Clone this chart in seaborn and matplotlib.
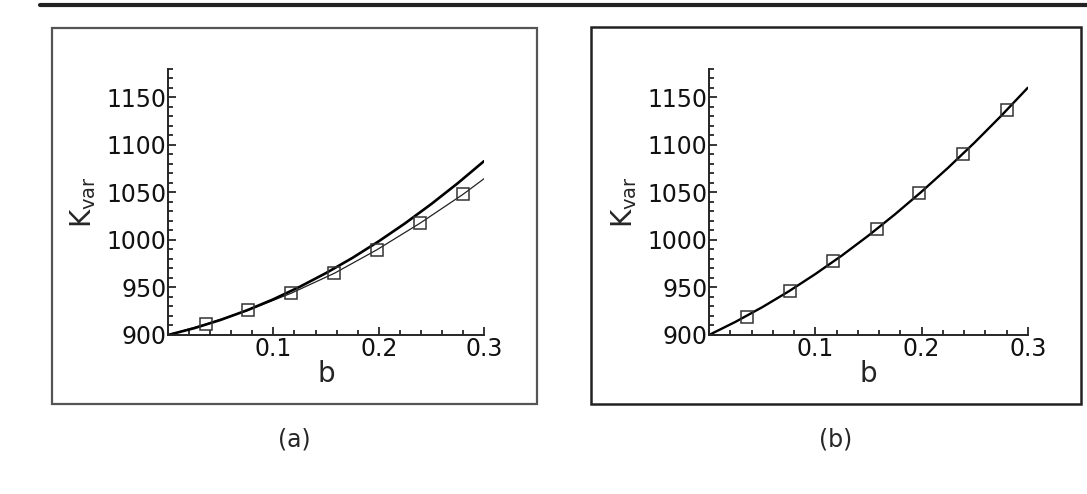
import numpy as np
import matplotlib
matplotlib.use("Agg")
import matplotlib.pyplot as plt
from matplotlib.lines import Line2D
from matplotlib.patches import Rectangle
from matplotlib.ticker import MultipleLocator
import seaborn as sns

# data
b_curve = [0.0, 0.025, 0.05, 0.075, 0.1, 0.125, 0.15, 0.175, 0.2, 0.225, 0.25, 0.275, 0.3]
K_thick_a = [900.0, 907.2, 915.9, 926.0, 937.6, 950.7, 965.2, 981.1, 998.6, 1017.5, 1037.9, 1059.7, 1083.0]
K_line_b = [900.0, 913.9, 929.2, 945.9, 964.1, 983.6, 1004.6, 1027.0, 1050.8, 1076.0, 1102.6, 1130.7, 1160.2]

b_pts = [0.036, 0.076, 0.117, 0.158, 0.198, 0.239, 0.280]
K_pts_a = [911.5, 926.0, 944.0, 965.0, 989.5, 1017.5, 1048.0]
K_pts_b = [919.3, 946.8, 978.1, 1011.6, 1049.6, 1090.8, 1136.5]

b_thin = [0.0] + b_pts + [0.3]
K_thin_a = [900.0] + K_pts_a + [1064.5]

panel_labels = ["(a)", "(b)"]

sns.set_style("ticks")
plt.rcParams["font.family"] = ["DejaVu Sans"]
plt.rcParams["mathtext.fontset"] = "dejavusans"

fig = plt.figure(figsize=(10.87, 4.94), dpi=100)

# frames and top rule
fig.add_artist(Line2D([40 / 1087, 1.0], [1 - 5 / 494, 1 - 5 / 494],
                      transform=fig.transFigure, color="#222222", lw=3))
fig.add_artist(Rectangle((0.0476, 0.1822), 0.4465, 0.761, transform=fig.transFigure,
                         fill=False, edgecolor="#555555", lw=1.6))
fig.add_artist(Rectangle((0.5434, 0.1822), 0.451, 0.7638, transform=fig.transFigure,
                         fill=False, edgecolor="#222222", lw=1.8))

ax_a = fig.add_axes([0.1546, 0.3219, 0.2907, 0.5385])
ax_b = fig.add_axes([0.6523, 0.3219, 0.2932, 0.5385])

sns.lineplot(x=b_thin, y=K_thin_a, ax=ax_a, color="#222222", linewidth=0.9)
sns.lineplot(x=b_curve, y=K_thick_a, ax=ax_a, color="black", linewidth=1.9)
sns.lineplot(x=b_pts, y=K_pts_a, ax=ax_a, linestyle="none", marker="s", markersize=8.5,
             markerfacecolor="none", markeredgecolor="#333333", markeredgewidth=1.1)

sns.lineplot(x=b_curve, y=K_line_b, ax=ax_b, color="black", linewidth=1.7)
sns.lineplot(x=b_pts, y=K_pts_b, ax=ax_b, linestyle="none", marker="s", markersize=8.5,
             markerfacecolor="none", markeredgecolor="#333333", markeredgewidth=1.1)

for ax in (ax_a, ax_b):
    ax.set_xlim(0, 0.3)
    ax.set_ylim(900, 1180)
    ax.set_facecolor("none")
    ax.spines["top"].set_visible(False)
    ax.spines["right"].set_visible(False)
    ax.spines["left"].set_linewidth(1.4)
    ax.spines["bottom"].set_linewidth(1.4)
    ax.set_xticks([0.1, 0.2, 0.3])
    ax.set_xticklabels(["0.1", "0.2", "0.3"])
    ax.xaxis.set_minor_locator(MultipleLocator(0.02))
    ax.set_yticks([900, 950, 1000, 1050, 1100, 1150])
    ax.yaxis.set_minor_locator(MultipleLocator(10))
    ax.tick_params(which="both", direction="in", width=1.1, labelsize=17, colors="black")
    ax.tick_params(which="major", length=6)
    ax.tick_params(which="minor", length=3.5)
    ax.tick_params(axis="y", pad=1)
    ax.tick_params(axis="x", pad=1.5)
    ax.set_xlabel("b", fontsize=20, labelpad=-1)
    ax.set_ylabel(r"K$_{\rm var}$", fontsize=20, labelpad=6)
    for t in ax.get_yticklabels() + ax.get_xticklabels():
        t.set_color("#111111")

fig.text(0.2705, 0.1113, panel_labels[0], ha="center", va="center", fontsize=17)
fig.text(0.769, 0.1113, panel_labels[1], ha="center", va="center", fontsize=17)

fig.savefig("out.png", dpi=100, facecolor="white")
